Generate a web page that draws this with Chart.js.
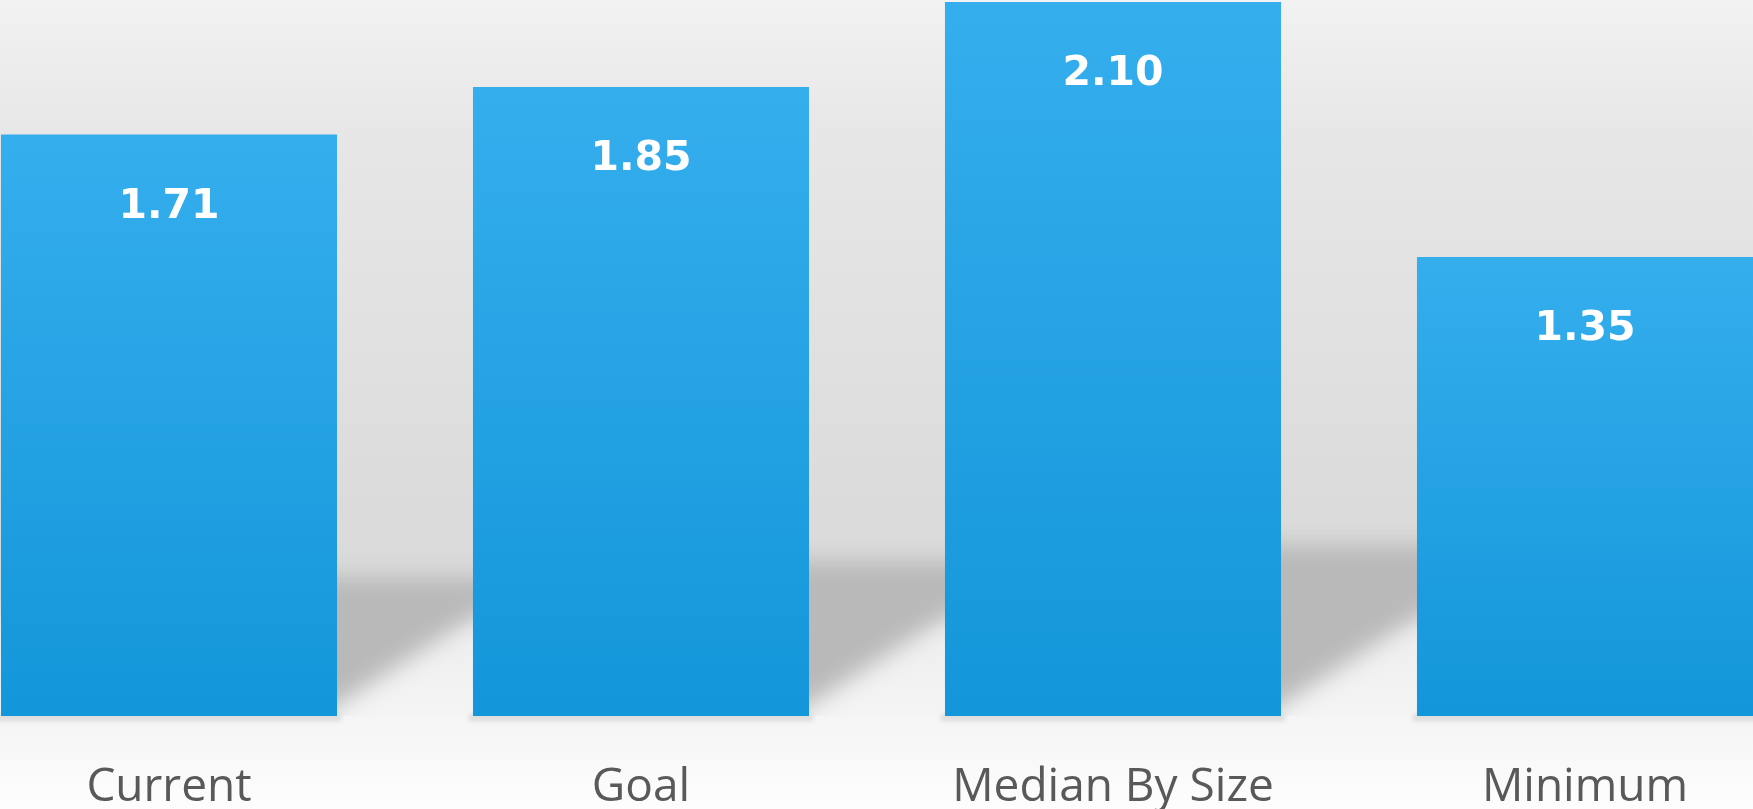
<!DOCTYPE html>
<html>
<head>
<meta charset="utf-8">
<script src="https://cdn.jsdelivr.net/npm/chart.js@4.4.1/dist/chart.umd.min.js"></script>
<style>
  html, body { margin: 0; padding: 0; overflow: hidden; background: #f7f7f7; }
  #wrap { position: absolute; left: -67px; top: 0; width: 1888px; height: 809px; }
</style>
</head>
<body>
<div id="wrap"><canvas id="chart-ratio"></canvas></div>
<script>
'use strict';

// Chart data
//
var categories = ["Current", "Goal", "Median By Size", "Minimum"];
var ratios = [1.71, 1.85, 2.10, 1.35];


// Backdrop: grey wall, shadow band between bars and light floor
// (drawn before the axes so the category labels stay on top)
//
var backdrop = {
  id: 'backdrop',
  beforeDraw: function(chart) {
    var ctx = chart.ctx, a = chart.chartArea, w = chart.width, h = chart.height;
    var bars = chart.getDatasetMeta(0).data;

    ctx.save();
    var g = ctx.createLinearGradient(0, 0, 0, a.bottom);
    g.addColorStop(0, '#f2f2f2');
    g.addColorStop(0.18, '#e7e7e7');
    g.addColorStop(0.72, '#dbdbdb');
    g.addColorStop(0.83, '#dadada');
    g.addColorStop(0.88, '#eeeeee');
    g.addColorStop(1, '#f4f4f4');
    ctx.fillStyle = g;
    ctx.fillRect(0, 0, w, a.bottom);

    // shadow band in every gap
    ctx.filter = 'blur(11px)';
    ctx.fillStyle = '#b9b9b9';
    for (var i = 0; i < bars.length - 1; i++) {
      var gl = bars[i].x + bars[i].width / 2;
      var gr = bars[i + 1].x - bars[i + 1].width / 2;
      var top = a.bottom - 134 - 0.034 * (gl + 67 - 337);
      var lowL = a.bottom - 11, lowR = a.bottom - 99;
      var k = (lowL - lowR) / (gr - gl);
      ctx.beginPath();
      ctx.moveTo(gl - 30, top);
      ctx.lineTo(gr + 30, top);
      ctx.lineTo(gr + 30, lowR - 30 * k);
      ctx.lineTo(gl - 30, lowL + 30 * k);
      ctx.closePath();
      ctx.fill();
    }
    ctx.filter = 'none';

    // floor
    var f = ctx.createLinearGradient(0, a.bottom, 0, h);
    f.addColorStop(0, '#f5f5f5');
    f.addColorStop(1, '#fdfdfd');
    ctx.fillStyle = f;
    ctx.fillRect(0, a.bottom, w, h - a.bottom);

    // soft line under each bar
    ctx.filter = 'blur(2px)';
    ctx.fillStyle = '#dcdcdc';
    bars.forEach(function(b) {
      ctx.fillRect(b.x - b.width / 2 - 4, a.bottom - 2, b.width + 8, 7);
    });
    ctx.restore();
  }
};


// White value labels inside the bars
//
var valueLabels = {
  id: 'valueLabels',
  afterDatasetsDraw: function(chart) {
    var ctx = chart.ctx;
    ctx.save();
    ctx.fillStyle = '#ffffff';
    ctx.font = 'bold 41px "DejaVu Sans"';
    ctx.textAlign = 'center';
    ctx.textBaseline = 'alphabetic';
    chart.getDatasetMeta(0).data.forEach(function(bar, i) {
      ctx.fillText(ratios[i].toFixed(2), bar.x, bar.y + 83);
    });
    ctx.restore();
  }
};


new Chart(document.getElementById('chart-ratio'), {
  type: 'bar',
  data: {
    labels: categories,
    datasets: [
      {
        data: ratios,
        backgroundColor: function(c) {
          var ch = c.chart, a = ch.chartArea;
          if (!a) return '#25a2e4';
          var top = ch.scales.y.getPixelForValue(c.raw);
          var g = ch.ctx.createLinearGradient(0, top, 0, a.bottom);
          g.addColorStop(0, '#35aeed');
          g.addColorStop(1, '#1396da');
          return g;
        },
        borderWidth: 0,
        categoryPercentage: 1,
        barPercentage: 0.712
      }
    ]
  },
  options: {
    responsive: true,
    maintainAspectRatio: false,
    animation: false,
    layout: { padding: { top: 2, left: 0, right: 0, bottom: 0 } },
    plugins: {
      legend: { display: false },
      tooltip: { enabled: false }
    },
    scales: {
      x: {
        grid: { display: false },
        border: { display: false },
        ticks: {
          color: '#595959',
          font: { family: '"Open Sans"', size: 46 },
          padding: 36,
          maxRotation: 0,
          autoSkip: false
        },
        afterFit: function(s) { s.height = 93; }
      },
      y: {
        display: false,
        min: 0,
        max: 2.1
      }
    }
  },
  plugins: [backdrop, valueLabels]
});
</script>
</body>
</html>
